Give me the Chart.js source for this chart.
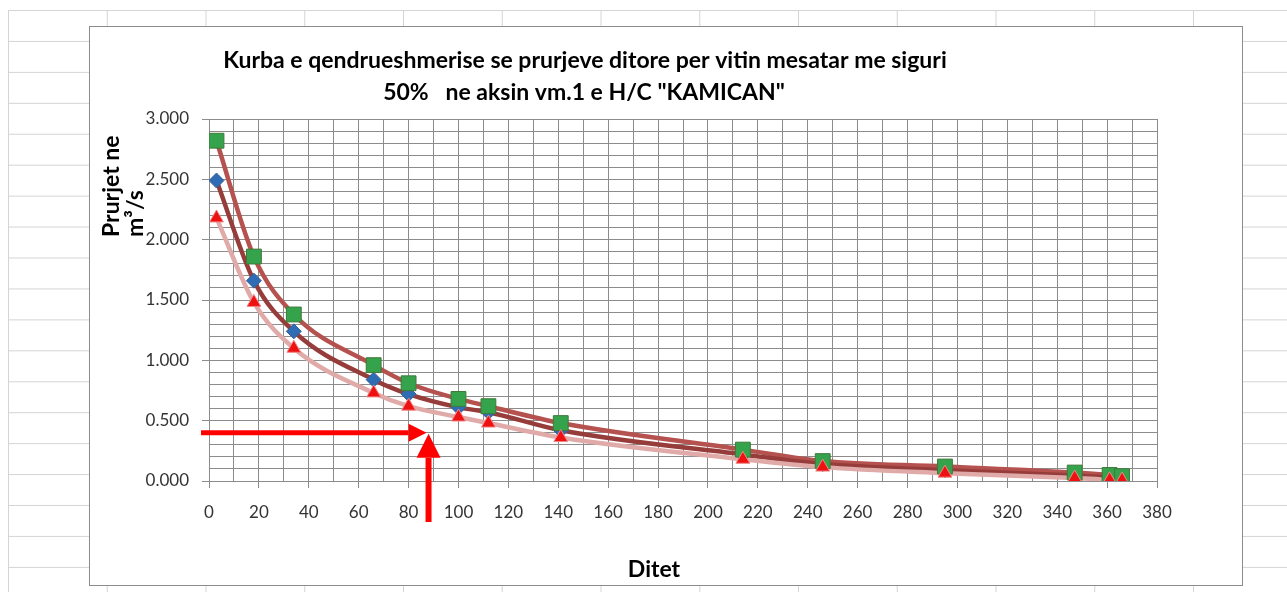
<!DOCTYPE html>
<html>
<head>
<meta charset="utf-8">
<script src="https://cdn.jsdelivr.net/npm/chart.js@4.4.1/dist/chart.umd.min.js"></script>
<style>
    html, body { margin: 0; padding: 0; width: 1287px; height: 592px; overflow: hidden; background: #fff; }
    /* fletet e excel-it ne sfond */
    .sheet {
        position: absolute; left: 8px; top: 10px; width: 1279px; height: 582px;
        background-image:
            linear-gradient(to right, #d4d4d4 1px, transparent 1px),
            linear-gradient(to bottom, #d4d4d4 1px, transparent 1px);
        background-size: 98.75px 30.95px;
    }
    .box { position: absolute; left: 89px; top: 26px; width: 1152px; height: 558px; background: #fff; border: 1px solid #8c8c8c; }
    #chart { position: absolute; left: 0; top: 0; }
</style>
</head>
<body>
<div class="sheet"></div>
<div class="box"></div>
<canvas id="chart" width="1287" height="592"></canvas>
<script>
// ========================================
// Te dhenat
// ========================================

// ditet
const days = [3, 18, 34, 66, 80, 100, 112, 141, 214, 246, 295, 347, 361, 366];

// prurjet m3/s
const flowHigh = [2.82, 1.86, 1.38, 0.96, 0.81, 0.68, 0.62, 0.48, 0.26, 0.165, 0.12, 0.07, 0.05, 0.04];
const flowMean = [2.49, 1.66, 1.24, 0.84, 0.72, 0.61, 0.57, 0.42, 0.22, 0.14, 0.09, 0.045, 0.03, 0.02];
const flowLow  = [2.18, 1.48, 1.10, 0.73, 0.62, 0.53, 0.48, 0.36, 0.18, 0.115, 0.065, 0.025, 0.01, 0.008];

// shigjetat (dita, prurja)
const arrowTip = [88, 0.40];
const arrowStartDay = -3.2;
const arrowBottomFlow = -0.34;

const titleLines = ['Kurba e qendrueshmerise se prurjeve ditore per vitin mesatar me siguri',
                    '50%   ne aksin vm.1 e H/C "KAMICAN"'];
const yTitle = ['Prurjet ne', 'm\u00B3/s'];
const xTitle = 'Ditet';

const GRID = '#8c8c8c';
const FONT = 'Lato, "Open Sans", sans-serif';

function toPoints(values) {
    return days.map((d, i) => ({ x: d, y: values[i] }));
}

function lineSet(values, color) {
    return {
        data: toPoints(values),
        borderColor: color,
        borderWidth: 4.5,
        pointRadius: 0,
        cubicInterpolationMode: 'monotone',
        order: 5
    };
}

function markerSet(values, style, radius, fill, border, order) {
    return {
        data: toPoints(values),
        showLine: false,
        pointStyle: style,
        pointRadius: radius,
        pointBackgroundColor: fill,
        pointBorderColor: border,
        pointBorderWidth: 1,
        order: order
    };
}

// shigjete e mbushur
function drawArrow(ctx, x1, y1, x2, y2, width, headLen, headHalf) {
    const ang = Math.atan2(y2 - y1, x2 - x1);
    const bx = x2 - Math.cos(ang) * headLen;
    const by = y2 - Math.sin(ang) * headLen;
    ctx.strokeStyle = '#ff0000';
    ctx.fillStyle = '#ff0000';
    ctx.lineWidth = width;
    ctx.lineCap = 'butt';
    ctx.beginPath();
    ctx.moveTo(x1, y1);
    ctx.lineTo(bx, by);
    ctx.stroke();
    ctx.beginPath();
    ctx.moveTo(x2, y2);
    ctx.lineTo(bx - Math.sin(ang) * headHalf, by + Math.cos(ang) * headHalf);
    ctx.lineTo(bx + Math.sin(ang) * headHalf, by - Math.cos(ang) * headHalf);
    ctx.closePath();
    ctx.fill();
}

const textsPlugin = {
    id: 'texts',
    afterDraw(chart) {
        const { ctx, scales: { x, y } } = chart;
        ctx.save();

        // titulli
        ctx.fillStyle = '#000';
        ctx.font = 'bold 23px ' + FONT;
        ctx.textAlign = 'center';
        ctx.textBaseline = 'middle';
        ctx.fillText(titleLines[0], 585, 61);
        ctx.fillText(titleLines[1], 584, 93);

        // titulli i boshtit x
        ctx.fillText(xTitle, 654, 570);

        // titulli i boshtit y
        ctx.textAlign = 'left';
        [[112, yTitle[0]], [136, yTitle[1]]].forEach(([cx, txt]) => {
            ctx.save();
            ctx.translate(cx, 237);
            ctx.rotate(-Math.PI / 2);
            ctx.fillText(txt, 0, 0);
            ctx.restore();
        });

        // shigjetat e kuqe
        const tx = x.getPixelForValue(arrowTip[0]);
        const ty = y.getPixelForValue(arrowTip[1]);
        drawArrow(ctx, x.getPixelForValue(arrowStartDay), ty, tx - 2, ty, 5, 18, 9);
        drawArrow(ctx, tx, y.getPixelForValue(arrowBottomFlow), tx, ty + 1, 6, 24, 12);

        ctx.restore();
    }
};

new Chart(document.getElementById('chart'), {
    type: 'line',
    data: {
        datasets: [
            lineSet(flowLow, '#e0aaa8'),
            lineSet(flowMean, '#963c3a'),
            lineSet(flowHigh, '#b5524f'),
            markerSet(flowMean, 'rectRot', 7.5, '#2e6db4', '#3a5f9a', 2),
            markerSet(flowHigh, 'rect', 10.5, '#35a24c', '#3f7a3a', 1),
            markerSet(flowLow, 'triangle', 8, '#ee1111', '#f08888', 0)
        ]
    },
    options: {
        responsive: false,
        animation: false,
        layout: { padding: { left: 0, top: 119, right: 130, bottom: 0 } },
        plugins: {
            legend: { display: false },
            tooltip: { enabled: false }
        },
        scales: {
            x: {
                type: 'linear',
                min: 0,
                max: 380,
                afterFit: s => { s.height = 111; },
                border: { color: GRID, width: 1 },
                grid: {
                    color: GRID,
                    tickLength: 7,
                    tickColor: c => (c.tick && c.tick.value % 20 === 0) ? GRID : 'rgba(0,0,0,0)'
                },
                ticks: {
                    stepSize: 10,
                    autoSkip: false,
                    maxRotation: 0,
                    padding: 14,
                    color: '#333',
                    font: { family: FONT, size: 17 },
                    callback: v => v % 20 === 0 ? String(v) : ''
                }
            },
            y: {
                min: 0,
                max: 3,
                afterFit: s => { s.width = 209; },
                border: { color: GRID, width: 1 },
                grid: {
                    color: GRID,
                    tickLength: 7,
                    tickColor: c => (c.tick && Math.round(c.tick.value * 100) % 50 === 0) ? GRID : 'rgba(0,0,0,0)'
                },
                ticks: {
                    stepSize: 0.1,
                    autoSkip: false,
                    padding: 13,
                    color: '#333',
                    font: { family: FONT, size: 17 },
                    callback: v => Math.round(v * 100) % 50 === 0 ? v.toFixed(3) : ''
                }
            }
        }
    },
    plugins: [textsPlugin]
});
</script>
</body>
</html>
